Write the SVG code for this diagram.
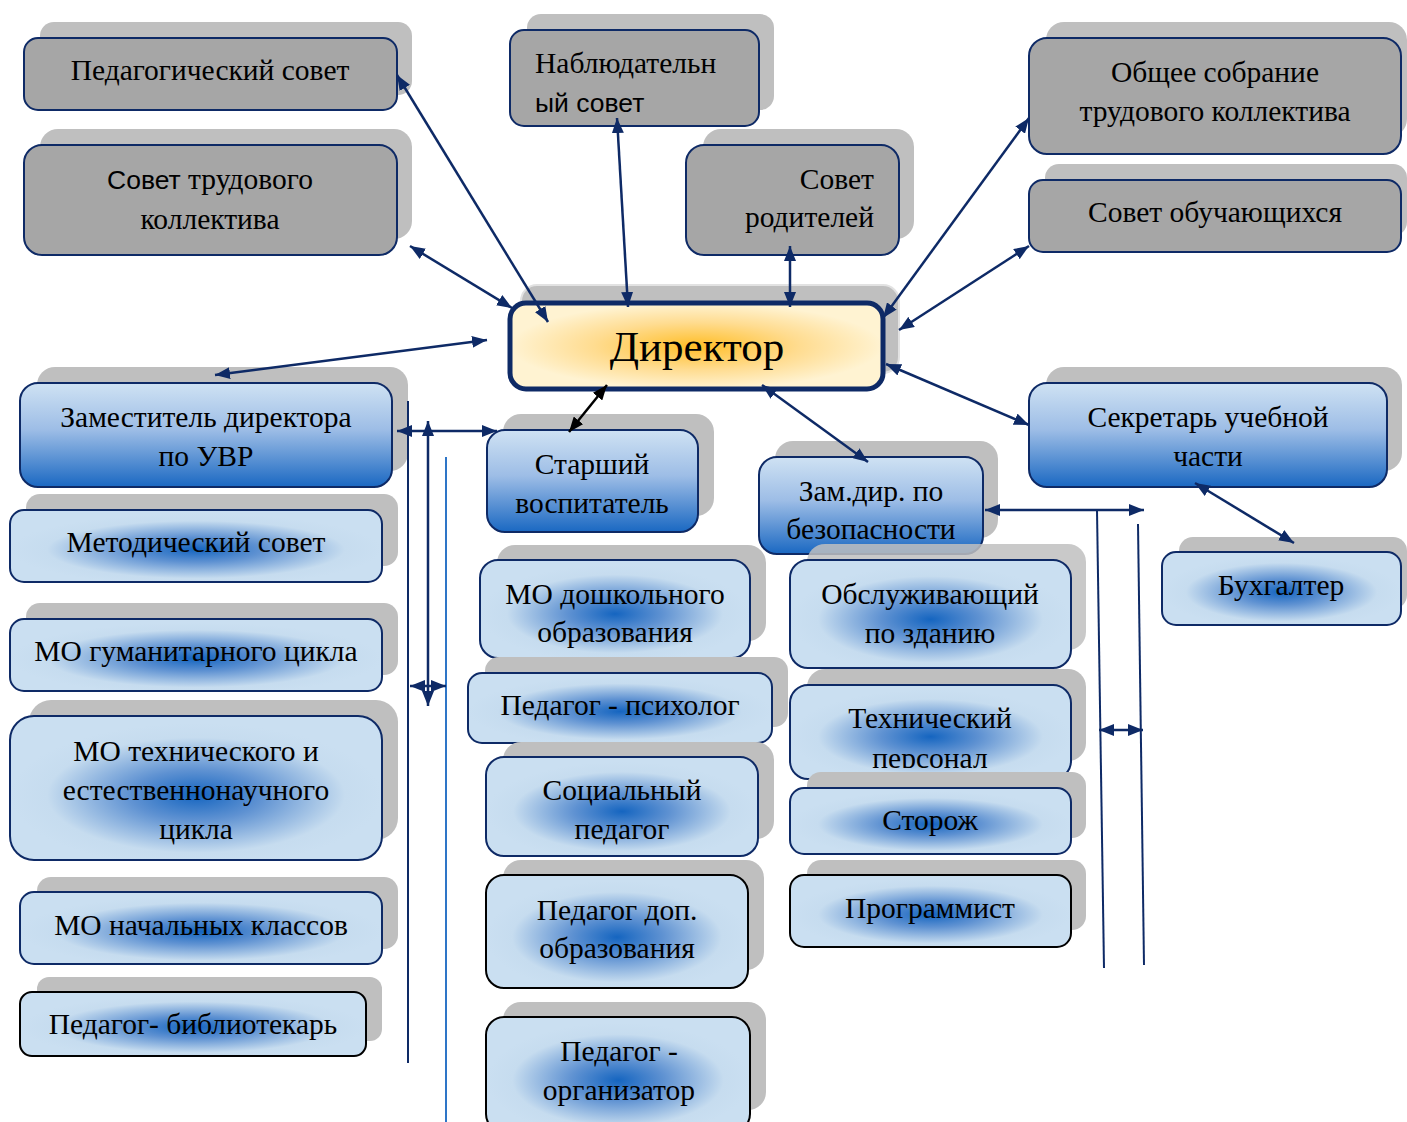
<svg xmlns="http://www.w3.org/2000/svg" width="1407" height="1122" viewBox="0 0 1407 1122">
<style>
.sh{fill:#bfbfbf}
.gr{fill:#a6a6a6;stroke:#0e2a66;stroke-width:2}
.lb{fill:url(#rad);stroke:#0e2a66;stroke-width:2}
.lbk{fill:url(#rad);stroke:#000;stroke-width:2}
.db{fill:url(#lin);stroke:#0e2a66;stroke-width:2}
text{font-family:"Liberation Serif","Times New Roman",serif;font-size:29.5px;fill:#000;text-anchor:middle}
.sans{font-family:"Liberation Sans",Arial,sans-serif;font-size:26.5px}
.c{stroke:#0e2a66;stroke-width:2.5;fill:none}
.ca{stroke:#0e2a66;stroke-width:2.5;fill:none;marker-start:url(#ah);marker-end:url(#ah)}
</style>
<defs>
<marker id="ah" viewBox="0 0 10 8" refX="10" refY="4" markerWidth="15" markerHeight="12" markerUnits="userSpaceOnUse" orient="auto-start-reverse"><path d="M0,0 L10,4 L0,8 z" fill="#0e2a66"/></marker>
<marker id="ahk" viewBox="0 0 10 8" refX="10" refY="4" markerWidth="15" markerHeight="12" markerUnits="userSpaceOnUse" orient="auto-start-reverse"><path d="M0,0 L10,4 L0,8 z" fill="#000"/></marker>
<radialGradient id="rad" cx="0.5" cy="0.55" r="0.5">
<stop offset="0" stop-color="#1565c0"/>
<stop offset="0.35" stop-color="#5f92d2"/>
<stop offset="0.8" stop-color="#c6dcef"/>
<stop offset="1" stop-color="#cadff1"/>
</radialGradient>
<linearGradient id="lin" x1="0" y1="0" x2="0" y2="1">
<stop offset="0" stop-color="#cfe2f3"/>
<stop offset="0.45" stop-color="#9dbde6"/>
<stop offset="1" stop-color="#1a68c2"/>
</linearGradient>
<radialGradient id="dir" cx="0.5" cy="0.5" r="0.5">
<stop offset="0" stop-color="#ffbe28"/>
<stop offset="0.55" stop-color="#ffdc90"/>
<stop offset="1" stop-color="#fff3d2"/>
</radialGradient>
<clipPath id="clipTech"><rect x="780" y="680" width="300" height="88"/></clipPath>
</defs>

<g id="n-pedsovet">
<rect class="sh" x="40" y="22" width="372" height="73" rx="14"/>
<rect class="gr" x="24" y="38" width="373" height="72" rx="14"/>
<text x="210" y="80">Педагогический совет</text>
</g>
<g id="n-sovet-trud">
<rect class="sh" x="40" y="129" width="372" height="110" rx="18"/>
<rect class="gr" x="24" y="145" width="373" height="110" rx="18"/>
<text x="210" y="189"><tspan class="sans">Совет</tspan> трудового</text>
<text x="210" y="229">коллектива</text>
</g>
<g id="n-nabl">
<rect class="sh" x="527" y="14" width="247" height="96" rx="14"/>
<rect class="gr" x="510" y="30" width="249" height="96" rx="14"/>
<text x="535" y="73" style="text-anchor:start">Наблюдательн</text>
<text x="535" y="112" class="sans" style="text-anchor:start">ый совет</text>
</g>
<g id="n-roditeli">
<rect class="sh" x="703" y="129" width="211" height="110" rx="18"/>
<rect class="gr" x="686" y="145" width="213" height="110" rx="18"/>
<text x="874" y="189" style="text-anchor:end">Совет</text>
<text x="874" y="227" style="text-anchor:end">родителей</text>
</g>
<g id="n-obshee">
<rect class="sh" x="1046" y="22" width="361" height="115" rx="18"/>
<rect class="gr" x="1029" y="38" width="372" height="116" rx="18"/>
<text x="1215" y="82">Общее собрание</text>
<text x="1215" y="121">трудового коллектива</text>
</g>
<g id="n-obuch">
<rect class="sh" x="1045" y="164" width="362" height="72" rx="14"/>
<rect class="gr" x="1029" y="180" width="372" height="72" rx="14"/>
<text x="1215" y="222">Совет обучающихся</text>
</g>

<g id="n-director">
<rect x="521" y="285" width="378" height="88" rx="16" fill="#bfbfbf" stroke="#e2e2e2" stroke-width="2"/>
<rect x="510" y="303" width="373" height="86" rx="16" fill="url(#dir)" stroke="#0e2a66" stroke-width="5"/>
<text x="697" y="361" style="font-size:43px">Директор</text>
</g>

<g id="n-zam-uvr">
<rect class="sh" x="37" y="367" width="371" height="104" rx="18"/>
<rect class="db" x="20" y="383" width="372" height="104" rx="18"/>
<text x="206" y="427">Заместитель директора</text>
<text x="206" y="466">по УВР</text>
</g>
<g id="n-starsh">
<rect class="sh" x="503" y="414" width="211" height="102" rx="18"/>
<rect class="db" x="487" y="430" width="211" height="102" rx="18"/>
<text x="592" y="474">Старший</text>
<text x="592" y="513">воспитатель</text>
</g>
<g id="n-zam-bez">
<rect class="sh" x="775" y="441" width="223" height="97" rx="18"/>
<rect class="db" x="759" y="457" width="224" height="97" rx="18"/>
<text x="871" y="501">Зам.дир. по</text>
<text x="871" y="539">безопасности</text>
</g>
<g id="n-secr">
<rect class="sh" x="1046" y="367" width="356" height="104" rx="18"/>
<rect class="db" x="1029" y="383" width="358" height="104" rx="18"/>
<text x="1208" y="427">Секретарь учебной</text>
<text x="1208" y="466">части</text>
</g>

<g id="n-metod">
<rect class="sh" x="26" y="494" width="372" height="72" rx="14"/>
<rect class="lb" x="10" y="510" width="372" height="72" rx="14"/>
<text x="196" y="552">Методический совет</text>
</g>
<g id="n-gum">
<rect class="sh" x="26" y="603" width="372" height="72" rx="14"/>
<rect class="lb" x="10" y="619" width="372" height="72" rx="14"/>
<text x="196" y="661">МО гуманитарного цикла</text>
</g>
<g id="n-tech-cycle">
<rect class="sh" x="29" y="700" width="369" height="140" rx="22"/>
<rect class="lb" x="10" y="716" width="372" height="144" rx="24"/>
<text x="196" y="761">МО технического и</text>
<text x="196" y="800">естественнонаучного</text>
<text x="196" y="839">цикла</text>
</g>
<g id="n-nach">
<rect class="sh" x="37" y="877" width="361" height="72" rx="14"/>
<rect class="lb" x="20" y="892" width="362" height="72" rx="14"/>
<text x="201" y="935">МО начальных классов</text>
</g>
<g id="n-bibl">
<rect class="sh" x="37" y="977" width="345" height="64" rx="12"/>
<rect class="lbk" x="20" y="992" width="346" height="64" rx="12"/>
<text x="193" y="1034">Педагог- библиотекарь</text>
</g>

<g id="n-doshk">
<rect class="sh" x="497" y="545" width="269" height="96" rx="18"/>
<rect class="lb" x="480" y="560" width="270" height="98" rx="18"/>
<text x="615" y="604">МО дошкольного</text>
<text x="615" y="642">образования</text>
</g>
<g id="n-psych">
<rect class="sh" x="485" y="657" width="303" height="70" rx="14"/>
<rect class="lb" x="468" y="673" width="304" height="70" rx="14"/>
<text x="620" y="715">Педагог - психолог</text>
</g>
<g id="n-soc">
<rect class="sh" x="503" y="742" width="271" height="97" rx="18"/>
<rect class="lb" x="486" y="757" width="272" height="99" rx="18"/>
<text x="622" y="800">Социальный</text>
<text x="622" y="839">педагог</text>
</g>
<g id="n-dop">
<rect class="sh" x="503" y="860" width="261" height="110" rx="18"/>
<rect class="lbk" x="486" y="875" width="262" height="113" rx="18"/>
<text x="617" y="920">Педагог доп.</text>
<text x="617" y="958">образования</text>
</g>
<g id="n-org">
<rect class="sh" x="503" y="1002" width="263" height="108" rx="18"/>
<rect class="lbk" x="486" y="1017" width="264" height="115" rx="18"/>
<text x="619" y="1061">Педагог -</text>
<text x="619" y="1100">организатор</text>
</g>

<g id="n-obsl">
<rect class="sh" x="807" y="544" width="279" height="106" rx="18" opacity="0.85"/>
<rect class="lb" x="790" y="560" width="281" height="108" rx="18"/>
<text x="930" y="604">Обслуживающий</text>
<text x="930" y="643">по зданию</text>
</g>
<g id="n-techper">
<rect class="sh" x="807" y="669" width="279" height="92" rx="18"/>
<rect class="lb" x="790" y="685" width="281" height="94" rx="18"/>
<g clip-path="url(#clipTech)">
<text x="930" y="728">Технический</text>
<text x="930" y="768">персонал</text>
</g>
</g>
<g id="n-storozh">
<rect class="sh" x="807" y="772" width="279" height="66" rx="14"/>
<rect class="lb" x="790" y="788" width="281" height="66" rx="14"/>
<text x="930" y="830">Сторож</text>
</g>
<g id="n-prog">
<rect class="sh" x="807" y="860" width="279" height="70" rx="14"/>
<rect class="lbk" x="790" y="875" width="281" height="72" rx="14"/>
<text x="930" y="918">Программист</text>
</g>
<g id="n-buh">
<rect class="sh" x="1179" y="537" width="228" height="72" rx="14"/>
<rect class="lb" x="1162" y="552" width="239" height="73" rx="14"/>
<text x="1281" y="595">Бухгалтер</text>
</g>

<g id="connectors">
<line class="ca" x1="397" y1="75" x2="548" y2="322"/>
<line class="ca" x1="410" y1="246" x2="512" y2="308"/>
<line class="ca" x1="617" y1="118" x2="628" y2="307"/>
<line class="ca" x1="790" y1="246" x2="790" y2="307"/>
<line class="ca" x1="1029" y1="118" x2="883" y2="318"/>
<line class="ca" x1="1029" y1="246" x2="899" y2="330"/>
<line class="ca" x1="487" y1="340" x2="215" y2="375"/>
<line class="ca" x1="886" y1="364" x2="1029" y2="425"/>
<line x1="607" y1="385" x2="569" y2="432" stroke="#000" stroke-width="2.5" marker-start="url(#ahk)" marker-end="url(#ahk)"/>
<line class="ca" x1="762" y1="385" x2="868" y2="462"/>
<line class="ca" x1="1195" y1="483" x2="1294" y2="543"/>
<line class="ca" x1="397" y1="431" x2="497" y2="431"/>
<line class="c" x1="408" y1="401" x2="408" y2="1063" style="stroke-width:2"/>
<line x1="446" y1="457" x2="446" y2="1122" stroke="#2e75c7" stroke-width="2"/>
<line class="ca" x1="428" y1="421" x2="428" y2="706"/>
<line class="ca" x1="410" y1="686" x2="446" y2="686"/>
<line class="ca" x1="985" y1="510" x2="1144" y2="510"/>
<line class="c" x1="1097" y1="510" x2="1104" y2="968" style="stroke-width:2"/>
<line class="c" x1="1138" y1="524" x2="1144" y2="965" style="stroke-width:2"/>
<line class="ca" x1="1099" y1="730" x2="1143" y2="730"/>
</g>
</svg>
